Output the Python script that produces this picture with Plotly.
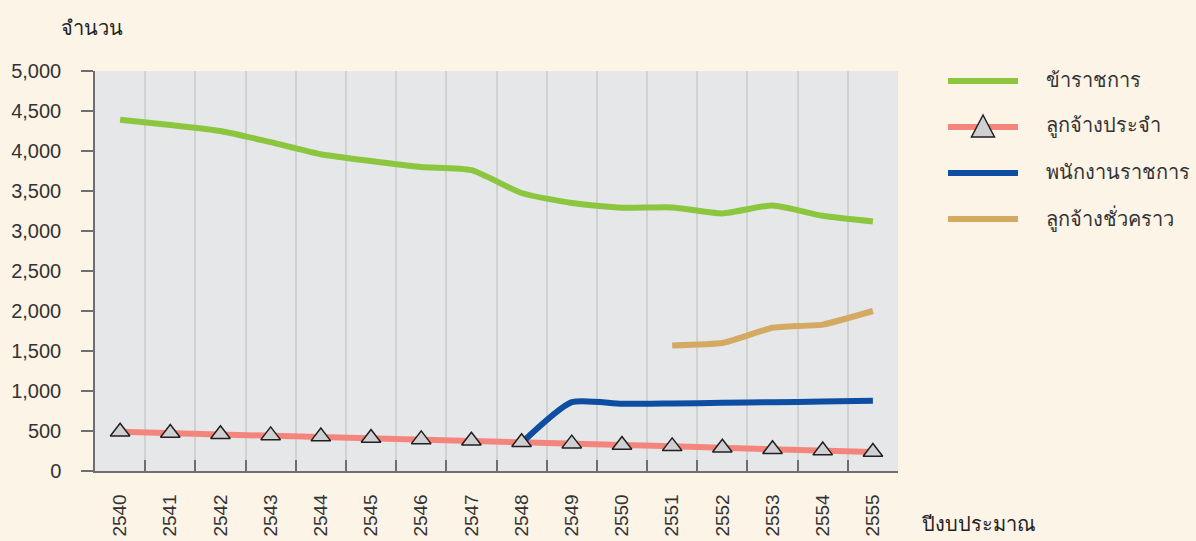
import plotly.graph_objects as go

years = ["2540", "2541", "2542", "2543", "2544", "2545", "2546", "2547",
         "2548", "2549", "2550", "2551", "2552", "2553", "2554", "2555"]

series_names = ["ข้าราชการ", "ลูกจ้างประจำ", "พนักงานราชการ", "ลูกจ้างชั่วคราว"]

civil_servants = [4390, 4325, 4250, 4110, 3960, 3875, 3800, 3760,
                  3475, 3350, 3290, 3295, 3220, 3320, 3190, 3120]
permanent_emp = [490, 475, 460, 445, 430, 412, 395, 378,
                 360, 342, 325, 308, 290, 272, 255, 237]
gov_employees = [None, None, None, None, None, None, None, None,
                 350, 860, 840, 845, 852, 860, 868, 878]
temp_emp = [None, None, None, None, None, None, None, None,
            None, None, None, 1570, 1600, 1790, 1830, 2000]

y_ticks = [0, 500, 1000, 1500, 2000, 2500, 3000, 3500, 4000, 4500, 5000]
y_ticktext = ["0", "500", "1,000", "1,500", "2,000", "2,500", "3,000",
              "3,500", "4,000", "4,500", "5,000"]

colors = ["#8cc63f", "#f4857d", "#0d4ea2", "#d4a962"]
FONT = "Liberation Sans, Arial, sans-serif"

fig = go.Figure()
fig.add_trace(go.Scatter(x=years, y=civil_servants, mode="lines",
                         line=dict(color=colors[0], width=6, shape="spline", smoothing=0.6),
                         name=series_names[0], showlegend=False))
fig.add_trace(go.Scatter(x=years, y=permanent_emp, mode="lines",
                         line=dict(color=colors[1], width=6),
                         name=series_names[1], showlegend=False))
fig.add_trace(go.Scatter(x=years, y=gov_employees, mode="lines",
                         line=dict(color=colors[2], width=6, shape="spline", smoothing=0.6),
                         name=series_names[2], showlegend=False))
fig.add_trace(go.Scatter(x=years, y=temp_emp, mode="lines",
                         line=dict(color=colors[3], width=6, shape="spline", smoothing=0.4),
                         name=series_names[3], showlegend=False))
fig.add_trace(go.Scatter(x=years, y=permanent_emp, mode="markers",
                         marker=dict(symbol="triangle-up", size=17, color="#cfd0d2",
                                     line=dict(color="#231f20", width=1.5)),
                         showlegend=False, hoverinfo="skip"))

# manual legend
W, H = 803.0, 400.0
def px(xp):
    return (xp - 95) / W
def py(yp):
    return (471 - yp) / H

shapes = []
annotations = []
legend_y = [81, 127, 173, 219]
for i, name in enumerate(series_names):
    shapes.append(dict(type="line", xref="paper", yref="paper",
                       x0=px(948), x1=px(1018), y0=py(legend_y[i]), y1=py(legend_y[i]),
                       line=dict(color=colors[i], width=6)))
    annotations.append(dict(text=name, xref="paper", yref="paper",
                            x=px(1044), y=py(legend_y[i] - 1), xanchor="left", yanchor="middle",
                            showarrow=False, font=dict(size=20, color="#333333", family=FONT)))
shapes.append(dict(type="path", xref="paper", yref="paper",
                   xsizemode="pixel", ysizemode="pixel",
                   xanchor=px(983), yanchor=py(127),
                   path="M -11.5,-10 L 11.5,-10 L 0,12 Z",
                   fillcolor="#cfd0d2", line=dict(color="#231f20", width=1.5)))

annotations.append(dict(text="จำนวน", xref="paper", yref="paper",
                        x=px(59), y=py(28), xanchor="left", yanchor="middle",
                        showarrow=False, font=dict(size=20, color="#222222", family=FONT)))
annotations.append(dict(text="ปีงบประมาณ", xref="paper", yref="paper",
                        x=px(920), y=py(524), xanchor="left", yanchor="middle",
                        showarrow=False, font=dict(size=20, color="#222222", family=FONT)))

fig.update_layout(
    width=1196, height=541,
    margin=dict(l=95, r=298, t=71, b=70, autoexpand=False),
    paper_bgcolor="#fdf4e8",
    plot_bgcolor="#e6e7e9",
    font=dict(family=FONT, color="#333333"),
    shapes=shapes,
    annotations=annotations,
    showlegend=False,
)
fig.update_xaxes(
    type="category", range=[-0.5, 15.5], tickson="boundaries",
    showgrid=True, gridcolor="#d0d1d3", gridwidth=1.5,
    showline=True, linecolor="#6d6e71", linewidth=1.5,
    ticks="inside", ticklen=11, tickcolor="#6d6e71", tickwidth=1.5,
    tickangle=-90, tickfont=dict(size=19, color="#333333", family=FONT),
    ticklabelstandoff=14, automargin=False,
)
fig.update_yaxes(
    range=[0, 5000], tickvals=y_ticks, ticktext=y_ticktext,
    showgrid=False, zeroline=False,
    showline=True, linecolor="#6d6e71", linewidth=1.5,
    ticks="outside", ticklen=12, tickcolor="#6d6e71", tickwidth=1.5,
    tickfont=dict(size=20, color="#333333", family=FONT),
    ticklabelstandoff=16, automargin=False,
)

fig.write_html("out.html", config={"displayModeBar": False},
               post_script="document.body.style.margin='0';document.body.style.overflow='hidden';")
